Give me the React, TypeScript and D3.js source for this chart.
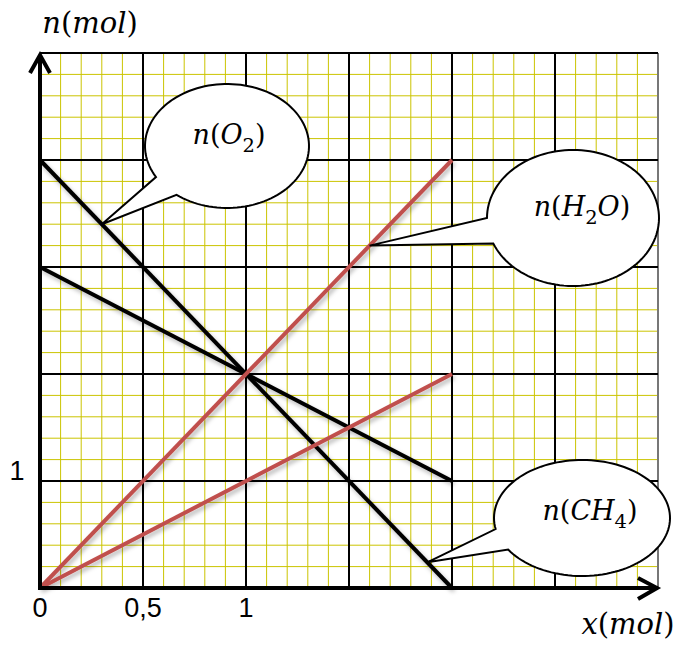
import React from "react";
import * as d3 from "d3";

// Advancement x (mol) and the amounts of each species n(x) = n0 + k·x
const species = ["O2", "CH4", "H2O", "CO2"];
const initialAmounts = [4, 3, 0, 0];
const coefficients = [-2, -1, 2, 1];
const lineColors = ["#000000", "#000000", "#c0504d", "#c0504d"];
const xFinal = 2;

// Axis tick labels
const xTickValues = [0, 0.5, 1];
const xTickLabels = ["0", "0,5", "1"];
const yTickValues = [1];
const yTickLabels = ["1"];

// Callouts: which curve they point at, at which advancement, and their text parts
const calloutSpecies = ["O2", "H2O", "O2"];
const calloutTipX = [0.3, 1.6, 1.88];
type Part = { t: string; it?: boolean; sub?: boolean };
const calloutTexts: Part[][] = [
  [{ t: "n", it: true }, { t: "(" }, { t: "O", it: true }, { t: "2", sub: true }, { t: ")" }],
  [{ t: "n", it: true }, { t: "(" }, { t: "H", it: true }, { t: "2", sub: true }, { t: "O", it: true }, { t: ")" }],
  [{ t: "n", it: true }, { t: "(" }, { t: "CH", it: true }, { t: "4", sub: true }, { t: ")" }],
];

const W = 683;
const H = 652;
const X0 = 40, X1 = 658, Y0 = 588, Y1 = 53;

const x = d3.scaleLinear().domain([0, 3]).range([X0, X1]);
const y = d3.scaleLinear().domain([0, 5]).range([Y0, Y1]);

// bubble layout (ellipse centre / radii in px, tail base angles in degrees)
const bubbles = [
  { cx: 227, cy: 146, rx: 82, ry: 62, a1: 128, a2: 150, tx: 229, ty: 144 },
  { cx: 573, cy: 218, rx: 86, ry: 68, a1: 158, a2: 180, tx: 582, ty: 216 },
  { cx: 582, cy: 518, rx: 88, ry: 58, a1: 147, a2: 169, tx: 590, ty: 520 },
];

const MATH_FONT = "'DejaVu Serif', serif";

function MathText({ parts, x: px, y: py, size, anchor = "middle" }: { parts: Part[]; x: number; y: number; size: number; anchor?: string }) {
  const out: React.ReactNode[] = [];
  let shifted = false;
  parts.forEach((p, i) => {
    let dy = 0;
    if (p.sub && !shifted) { dy = size * 0.28; shifted = true; }
    else if (!p.sub && shifted) { dy = -size * 0.28; shifted = false; }
    out.push(
      <tspan key={i} dy={dy} fontStyle={p.it ? "italic" : "normal"} style={{ fontSize: (p.sub ? size * 0.72 : size) + "px" }}>
        {p.t}
      </tspan>
    );
  });
  return (
    <text x={px} y={py} textAnchor={anchor} style={{ fontFamily: MATH_FONT, fontSize: size + "px" }} fill="#000">
      {out}
    </text>
  );
}

function bubblePath(b: typeof bubbles[number], tip: [number, number]) {
  const r = (a: number) => (a * Math.PI) / 180;
  const pts: [number, number][] = [tip];
  const start = r(b.a2);
  const end = r(b.a1) + 2 * Math.PI;
  const n = 120;
  for (let i = 0; i <= n; i++) {
    const t = start + ((end - start) * i) / n;
    pts.push([b.cx + b.rx * Math.cos(t), b.cy + b.ry * Math.sin(t)]);
  }
  return d3.line()(pts) + "Z";
}

export default function App() {
  const xMinor = d3.range(0, 31).map((i) => i / 10);
  const yMinor = d3.range(0, 26).map((i) => i / 5);
  const xMajor = d3.range(0, 7).map((i) => i / 2);
  const yMajor = d3.range(0, 6);

  const amount = (s: string, xv: number) => {
    const i = species.indexOf(s);
    return initialAmounts[i] + coefficients[i] * xv;
  };

  return (
    <svg width={W} height={H} style={{ position: "absolute", left: 0, top: 0, background: "#fff" }}>
      <defs>
        <filter id="sh" x="-10%" y="-10%" width="120%" height="120%">
          <feDropShadow dx="2" dy="3" stdDeviation="2" floodColor="#000" floodOpacity="0.28" />
        </filter>
      </defs>
      {/* minor grid */}
      <g stroke="#cbc400" strokeWidth={1}>
        {xMinor.map((v, i) => (
          <line key={"xm" + i} x1={x(v)} x2={x(v)} y1={Y0} y2={Y1} />
        ))}
        {yMinor.map((v, i) => (
          <line key={"ym" + i} x1={X0} x2={X1} y1={y(v)} y2={y(v)} />
        ))}
      </g>
      {/* major grid */}
      <g stroke="#000" strokeWidth={2}>
        {xMajor.map((v, i) => (
          <line key={"xM" + i} x1={x(v)} x2={x(v)} y1={Y0} y2={Y1} stroke={i === 6 ? "#777" : "#000"} />
        ))}
        {yMajor.map((v, i) => (
          <line key={"yM" + i} x1={X0} x2={X1} y1={y(v)} y2={y(v)} />
        ))}
      </g>

      {/* reaction curves */}
      <g filter="url(#sh)" fill="none" strokeWidth={4}>
        {species.map((s, i) => (
          <path
            key={s}
            d={d3.line<number>().x((d) => x(d)).y((d) => y(amount(s, d)))([0, xFinal]) || ""}
            stroke={lineColors[i]}
          />
        ))}
      </g>

      {/* axes */}
      <g stroke="#000" strokeWidth={4} fill="none" strokeLinecap="butt">
        <line x1={X0} x2={X0} y1={Y0 + 2} y2={Y1 + 2} />
        <line x1={X0 - 2} x2={X1} y1={Y0} y2={Y0} />
        <polyline points={`${X0 - 10},${Y1 + 20} ${X0},${Y1 + 2} ${X0 + 10},${Y1 + 20}`} />
        <polyline points={`${X1 - 20},${Y0 - 10} ${X1 - 1},${Y0} ${X1 - 20},${Y0 + 11}`} />
      </g>

      {/* tick labels */}
      <g style={{ fontFamily: "'Liberation Sans', Arial, sans-serif", fontSize: "27px" }} fill="#000">
        {xTickValues.map((v, i) => (
          <text key={"xt" + i} x={x(v)} y={Y0 + 29} textAnchor="middle">
            {xTickLabels[i]}
          </text>
        ))}
        {yTickValues.map((v, i) => (
          <text key={"yt" + i} x={17} y={y(v) - 1} textAnchor="middle">
            {yTickLabels[i]}
          </text>
        ))}
      </g>

      {/* axis titles */}
      <MathText parts={[{ t: "n", it: true }, { t: "(" }, { t: "mol", it: true }, { t: ")" }]} x={90} y={33} size={29} />
      <MathText parts={[{ t: "x", it: true }, { t: "(" }, { t: "mol", it: true }, { t: ")" }]} x={628} y={634} size={29} />

      {/* callouts */}
      {bubbles.map((b, i) => {
        const tx = calloutTipX[i];
        const tip: [number, number] = [x(tx), y(amount(calloutSpecies[i], tx))];
        return (
          <g key={"b" + i}>
            <path d={bubblePath(b, tip)} fill="#fff" stroke="#000" strokeWidth={2} />
            <MathText parts={calloutTexts[i]} x={b.tx} y={b.ty} size={27} />
          </g>
        );
      })}
    </svg>
  );
}
